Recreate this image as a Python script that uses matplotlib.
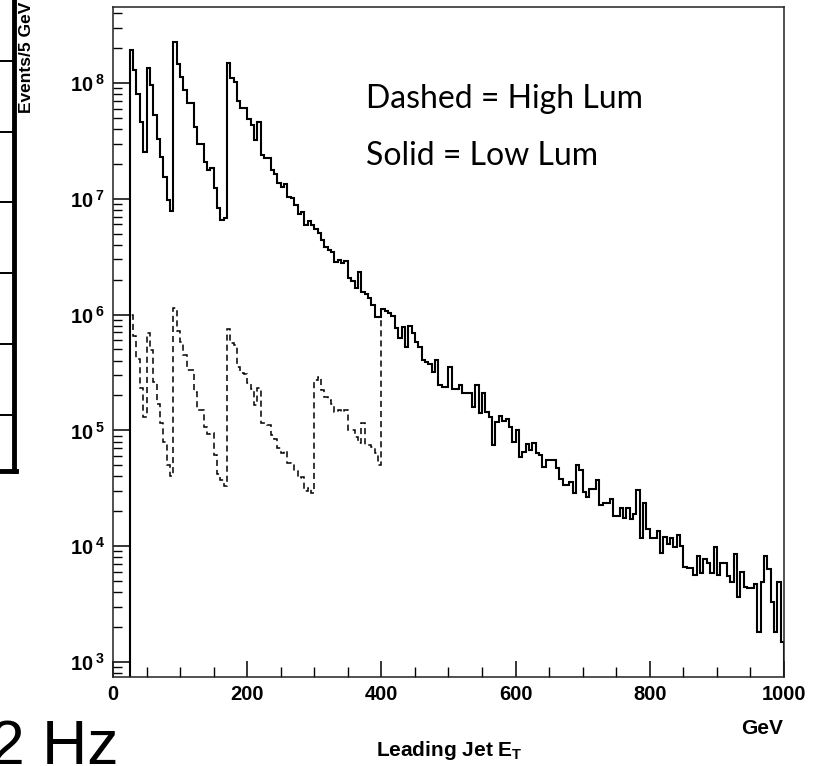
import numpy as np
import matplotlib
matplotlib.use("Agg")
import matplotlib.pyplot as plt
from matplotlib.lines import Line2D
from matplotlib.ticker import FixedLocator, FixedFormatter, LogLocator, MultipleLocator, NullFormatter

plt.rcParams["font.family"] = "Liberation Sans"
plt.rcParams["font.weight"] = "bold"
plt.rcParams["mathtext.fontset"] = "custom"
plt.rcParams["mathtext.rm"] = "Liberation Sans:bold"
plt.rcParams["mathtext.bf"] = "Liberation Sans:bold"
plt.rcParams["mathtext.default"] = "bf"

# ---- data: log10(Events / 5 GeV), 5 GeV bins starting at 25 GeV ----
BIN_START = 25
BIN_WIDTH = 5

# solid = low luminosity, 25 .. 1000 GeV
solid_log = [
    # 25-45
    8.285, 8.112, 7.902, 7.660, 7.407,
    # 50-85
    8.132, 7.983, 7.724, 7.516, 7.364, 7.191, 6.990, 6.897,
    # 90-165
    8.351, 8.161, 8.055, 7.940, 7.825, 7.825, 7.623, 7.473, 7.473, 7.320,
    7.249, 7.263, 7.090, 6.923, 6.817, 6.832,
    # 170-215
    8.170, 8.040, 8.010, 7.840, 7.780, 7.780, 7.690, 7.640, 7.510, 7.666,
    # 220-400
    7.378, 7.355, 7.355, 7.249, 7.211, 7.139, 7.105, 7.125, 7.018, 7.010,
    6.946, 6.869, 6.889, 6.774, 6.808, 6.774, 6.739, 6.702, 6.644, 6.587,
    6.558, 6.544, 6.457, 6.472, 6.449, 6.463, 6.313, 6.290, 6.227, 6.365,
    6.198, 6.175, 6.141, 6.083, 5.982, 5.982, 6.048,
    # 405-600
    6.031, 6.011, 5.991, 5.887, 5.795, 5.896, 5.723, 5.905, 5.838, 5.766,
    5.723, 5.608, 5.594, 5.571, 5.507, 5.608, 5.392, 5.378, 5.378, 5.550,
    5.355, 5.358, 5.392, 5.326, 5.326, 5.326, 5.205, 5.392, 5.147, 5.320,
    5.162, 5.118, 4.874, 5.075, 5.127, 5.081, 5.098, 5.032, 4.903, 5.003,
    # 605-790
    4.773, 4.816, 4.880, 4.830, 4.888, 4.808, 4.788, 4.681, 4.744, 4.744,
    4.744, 4.672, 4.577, 4.528, 4.528, 4.557, 4.462, 4.701, 4.658, 4.471,
    4.428, 4.491, 4.491, 4.572, 4.356, 4.376, 4.376, 4.405, 4.261, 4.261,
    4.327, 4.241, 4.327, 4.232, 4.278, 4.485, 4.068, 4.370,
    # 795-995
    4.145, 4.068, 4.068, 4.134, 3.938, 4.082, 4.019, 4.068, 3.990, 4.097,
    4.002, 3.823, 3.809, 3.809, 3.751, 3.915, 3.771, 3.886, 3.852, 3.771,
    3.990, 3.751, 3.852, 3.852, 3.743, 3.694, 3.930, 3.558, 3.780, 3.650,
    3.636, 3.636, 3.673, 3.262, 3.694, 3.915, 3.800, 3.521, 3.262, 3.694,
    3.176,
]

# dashed = high luminosity, 25 .. 395 GeV (above 400 it lies on the solid one)
dashed_log_low = [
    # 25-45
    5.996, 5.815, 5.614, 5.363, 5.113,
    # 50-85
    5.838, 5.694, 5.421, 5.228, 5.067, 4.903, 4.701, 4.606,
    # 90-165
    6.054, 5.861, 5.766, 5.651, 5.522, 5.522, 5.335, 5.176, 5.176, 5.032,
    4.966, 4.975, 4.788, 4.624, 4.570, 4.520,
    # 170-295
    5.873, 5.752, 5.738, 5.550, 5.493, 5.487, 5.406, 5.355, 5.219, 5.363,
    5.061, 5.067, 5.047, 4.960, 4.923, 4.845, 4.802, 4.825, 4.716, 4.710,
    4.652, 4.586, 4.600, 4.480, 4.500, 4.460,
    # 300-395
    5.435, 5.458, 5.349, 5.286, 5.262, 5.228, 5.162, 5.176, 5.162, 5.176,
    5.003, 5.003, 4.946, 4.888, 5.061, 4.874, 4.874, 4.860, 4.802, 4.701,
]

xtick_values = [0, 200, 400, 600, 800, 1000]
ytick_exps = [3, 4, 5, 6, 7, 8]

# ---- figure ----
W, H = 820, 766
fig = plt.figure(figsize=(W / 100, H / 100), dpi=100)
ax = fig.add_axes([113 / W, 89 / H, 671 / W, 670 / H])

solid = 10.0 ** np.array(solid_log)
edges = BIN_START + BIN_WIDTH * np.arange(len(solid) + 1)
dashed = 10.0 ** np.array(dashed_log_low + solid_log[len(dashed_log_low):])

ax.stairs(dashed, edges, baseline=1.0, color="black", linewidth=1.1,
          linestyle=(0, (4, 2.6)))
ax.stairs(solid, edges, baseline=1.0, color="black", linewidth=1.5)

ax.set_yscale("log")
ax.set_xlim(0, 1000)
ax.set_ylim(10 ** 2.870, 10 ** 8.656)

ax.xaxis.set_major_locator(FixedLocator(xtick_values))
ax.xaxis.set_minor_locator(MultipleLocator(50))
ax.yaxis.set_major_locator(FixedLocator([10.0 ** e for e in ytick_exps]))
ax.yaxis.set_major_formatter(FixedFormatter([r"$10^{\,%d}$" % e for e in ytick_exps]))
ax.yaxis.set_minor_locator(LogLocator(base=10, subs=np.arange(2, 10), numticks=30))
ax.yaxis.set_minor_formatter(NullFormatter())

ax.tick_params(axis="both", which="both", direction="in", top=False, right=False,
               color="black")
ax.tick_params(axis="y", which="major", length=13, width=1.1, pad=6, labelsize=14.5)
ax.tick_params(axis="y", which="minor", length=6.5, width=1.0)
ax.tick_params(axis="x", which="major", length=11.5, width=1.1, pad=6, labelsize=14.5)
ax.tick_params(axis="x", which="minor", length=7, width=1.0)
for sp in ax.spines.values():
    sp.set_linewidth(1.1)
    sp.set_color("#222222")

# axis titles (PAW style)
fig.text(762 / W, 1 - 729 / H, "GeV", fontsize=15, ha="center", va="center")
fig.text(449 / W, 1 - 750 / H, r"Leading Jet E$_{T}$", fontsize=15,
         ha="center", va="center")
fig.text(27 / W, 1 - 2 / H, "Events/5 GeV", fontsize=12.5, rotation=90,
         ha="center", va="top")

# annotations
fig.text(366 / W, 1 - 108 / H, "Dashed = High Lum", fontsize=23, family="Lato",
         fontweight="normal", va="baseline")
fig.text(366 / W, 1 - 165 / H, "Solid = Low Lum", fontsize=23, family="Lato",
         fontweight="normal", va="baseline")

# bits of the slide around the plot
fig.add_artist(Line2D([14 / W, 14 / W], [1, 1 - 471 / H], color="black", lw=3.5,
                      transform=fig.transFigure))
fig.add_artist(Line2D([0, 16 / W], [1 - 471 / H, 1 - 471 / H], color="black", lw=3.5,
                      transform=fig.transFigure))
for yp in [61, 132, 202, 273, 344, 415]:
    fig.add_artist(Line2D([0, 13 / W], [1 - yp / H, 1 - yp / H], color="black", lw=1.4,
                          transform=fig.transFigure))
fig.text(-10 / W, 1 - 764 / H, "2 Hz", fontsize=45, fontweight="normal",
         va="baseline", ha="left")

fig.savefig("out.png", dpi=100, facecolor="white")
